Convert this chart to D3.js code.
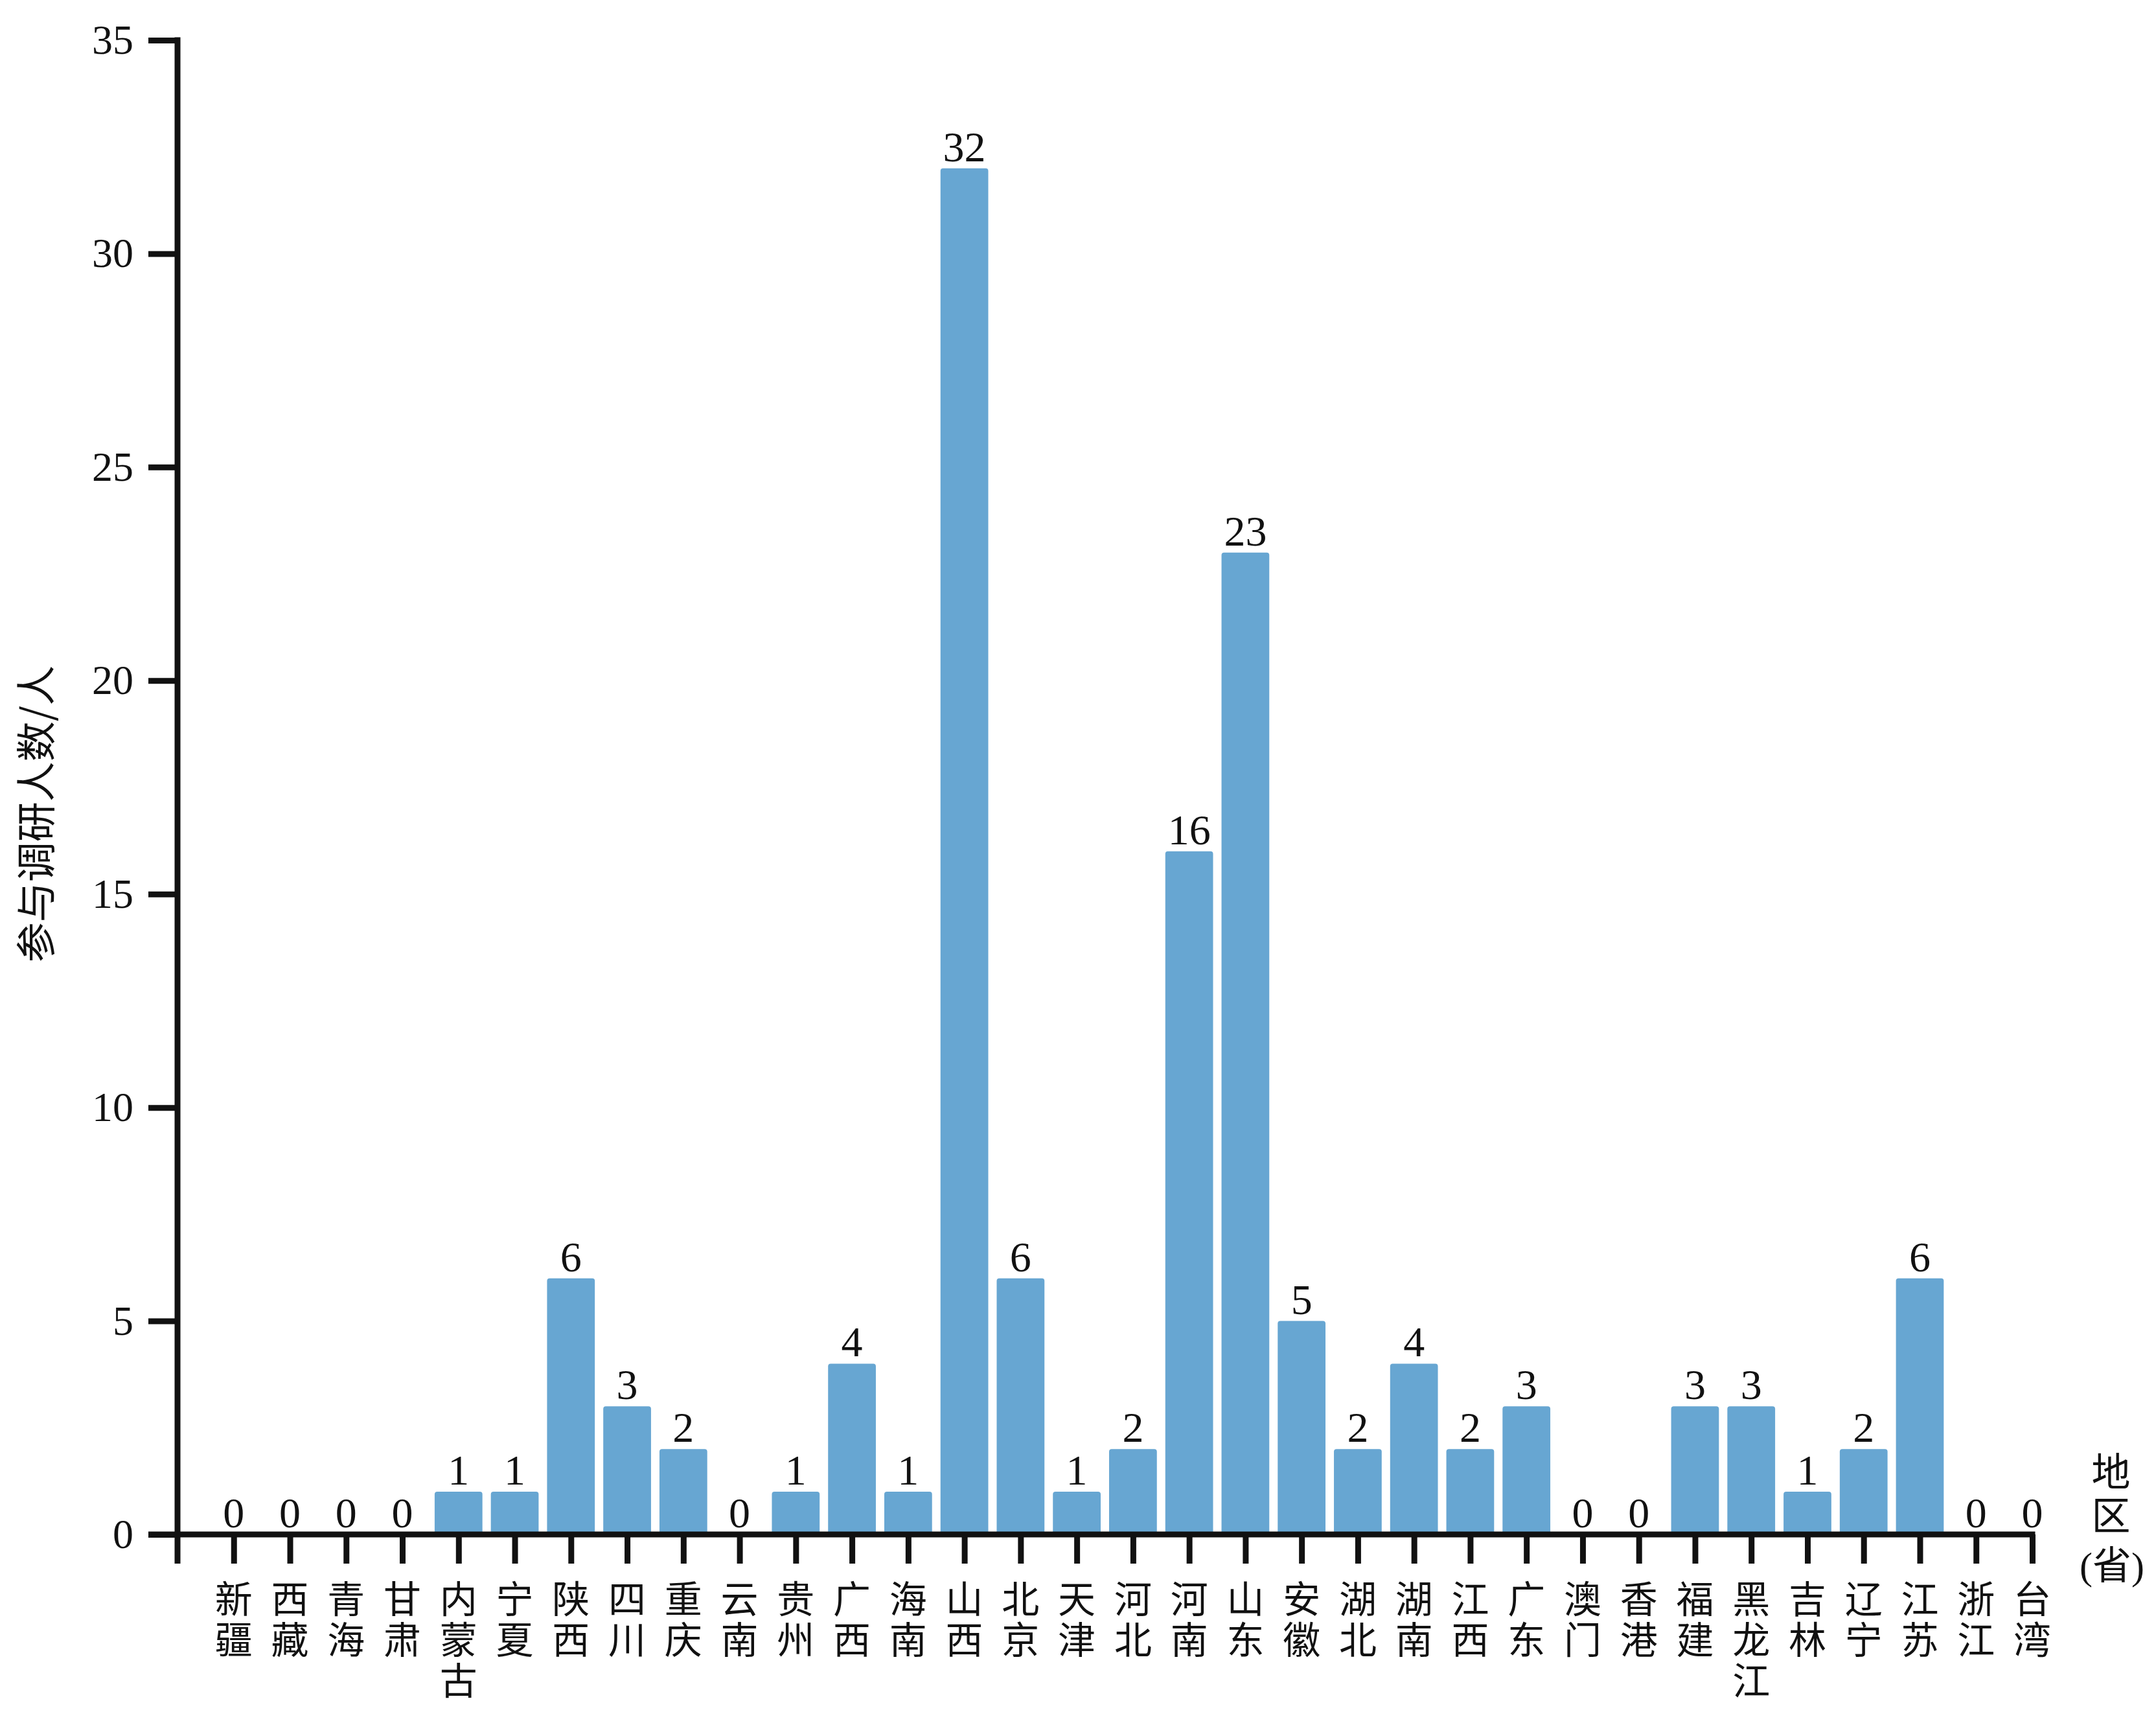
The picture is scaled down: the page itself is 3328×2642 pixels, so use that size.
<!DOCTYPE html>
<html>
<head>
<meta charset="utf-8">
<script src="https://cdn.jsdelivr.net/npm/d3@7"></script>
<style>
  body { margin: 0; background: #fff; }
  text { fill: #111; }
</style>
</head>
<body>
<div id="chart"></div>
<script>
// provinces, in the order of the picture
var provinces = ["新疆", "西藏", "青海", "甘肃", "内蒙古", "宁夏", "陕西", "四川", "重庆", "云南", "贵州",
                 "广西", "海南", "山西", "北京", "天津", "河北", "河南", "山东", "安徽", "湖北", "湖南",
                 "江西", "广东", "澳门", "香港", "福建", "黑龙江", "吉林", "辽宁", "江苏", "浙江", "台湾"];
var counts = [0, 0, 0, 0, 1, 1, 6, 3, 2, 0, 1,
              4, 1, 32, 6, 1, 2, 16, 23, 5, 2, 4,
              2, 3, 0, 0, 3, 3, 1, 2, 6, 0, 0];
var yTicks = [0, 5, 10, 15, 20, 25, 30, 35];
var yTitle = "参与调研人数/人";
var xTitle = "地区";
var xTitleUnit = "(省)";

var width = 3328, height = 2642;
var x0 = 274, xEnd = 3137, y0 = 2368, yTop = 62;
var lineW = 9, tickLen = 45;
var serif = "Times New Roman, Liberation Serif, Noto Sans CJK SC, serif";

var svg = d3.select("#chart").append("svg")
    .attr("width", width)
    .attr("height", height)

var step = (xEnd - x0) / provinces.length;

var x = d3.scalePoint()
    .domain(provinces)
    .range([x0 + step, xEnd])
    .padding(0)

var y = d3.scaleLinear()
    .domain([0, 35])
    .range([y0, yTop])

var barW = step * 0.85;

// bars
svg.append("g").selectAll("rect")
    .data(provinces).enter().append("rect")
        .attr("x", function(d){ return x(d) - barW / 2 })
        .attr("y", function(d, i){ return y(counts[i]) })
        .attr("width", barW)
        .attr("height", function(d, i){ return Math.max(0, y0 - y(counts[i])) })
        .attr("rx", 4)
        .attr("fill", "#67a6d2")
        .attr("opacity", function(d, i){ return counts[i] > 0 ? 1 : 0 })

// value labels
svg.append("g").selectAll("text")
    .data(provinces).enter().append("text")
        .attr("x", function(d){ return x(d) })
        .attr("y", function(d, i){ return y(counts[i]) - 11 })
        .attr("text-anchor", "middle")
        .style("font-family", serif)
        .attr("font-size", 66)
        .text(function(d, i){ return counts[i] })

// y axis
var yAxis = svg.append("g")
    .attr("transform", "translate(" + x0 + ",0)")
    .call(d3.axisLeft(y).tickValues(yTicks).tickSize(tickLen).tickPadding(23))
yAxis.select(".domain").remove()
yAxis.selectAll(".tick line").attr("stroke", "#111").attr("stroke-width", lineW)
yAxis.selectAll(".tick text")
    .style("font-family", serif)
    .attr("font-size", 64)
    .attr("fill", "#111")

// x axis ticks
var xAxis = svg.append("g")
    .attr("transform", "translate(0," + y0 + ")")
    .call(d3.axisBottom(x).tickSize(tickLen).tickFormat(""))
xAxis.select(".domain").remove()
xAxis.selectAll(".tick line").attr("stroke", "#111").attr("stroke-width", lineW)

// axis lines
svg.append("line")
    .attr("x1", x0).attr("x2", x0)
    .attr("y1", yTop - lineW / 2).attr("y2", y0 + tickLen)
    .attr("stroke", "#111").attr("stroke-width", lineW)
svg.append("line")
    .attr("x1", x0 - tickLen).attr("x2", xEnd + lineW / 2)
    .attr("y1", y0).attr("y2", y0)
    .attr("stroke", "#111").attr("stroke-width", lineW)

// category labels, written top to bottom
svg.append("g").selectAll("text")
    .data(provinces).enter().append("text")
        .attr("x", function(d){ return x(d) })
        .attr("y", 2438)
        .style("writing-mode", "vertical-rl")
        .style("text-orientation", "upright")
        .style("letter-spacing", "5px")
        .style("font-family", "Noto Sans CJK SC, sans-serif")
        .attr("font-size", 58)
        .text(function(d){ return d })

// x title: 地区 top to bottom, (省) below it
svg.append("text")
    .attr("x", 3252)
    .attr("y", 2240)
    .style("writing-mode", "vertical-rl")
    .style("text-orientation", "upright")
    .style("letter-spacing", "8px")
    .style("font-family", serif)
    .attr("font-size", 60)
    .text(xTitle)
svg.append("text")
    .attr("x", 3260)
    .attr("y", 2437)
    .attr("text-anchor", "middle")
    .style("font-family", serif)
    .attr("font-size", 60)
    .text(xTitleUnit)

// y title
svg.append("text")
    .attr("transform", "translate(79,1256) rotate(-90)")
    .attr("text-anchor", "middle")
    .style("font-family", "Noto Sans CJK SC, sans-serif")
    .attr("font-size", 62)
    .text(yTitle)
</script>
</body>
</html>
